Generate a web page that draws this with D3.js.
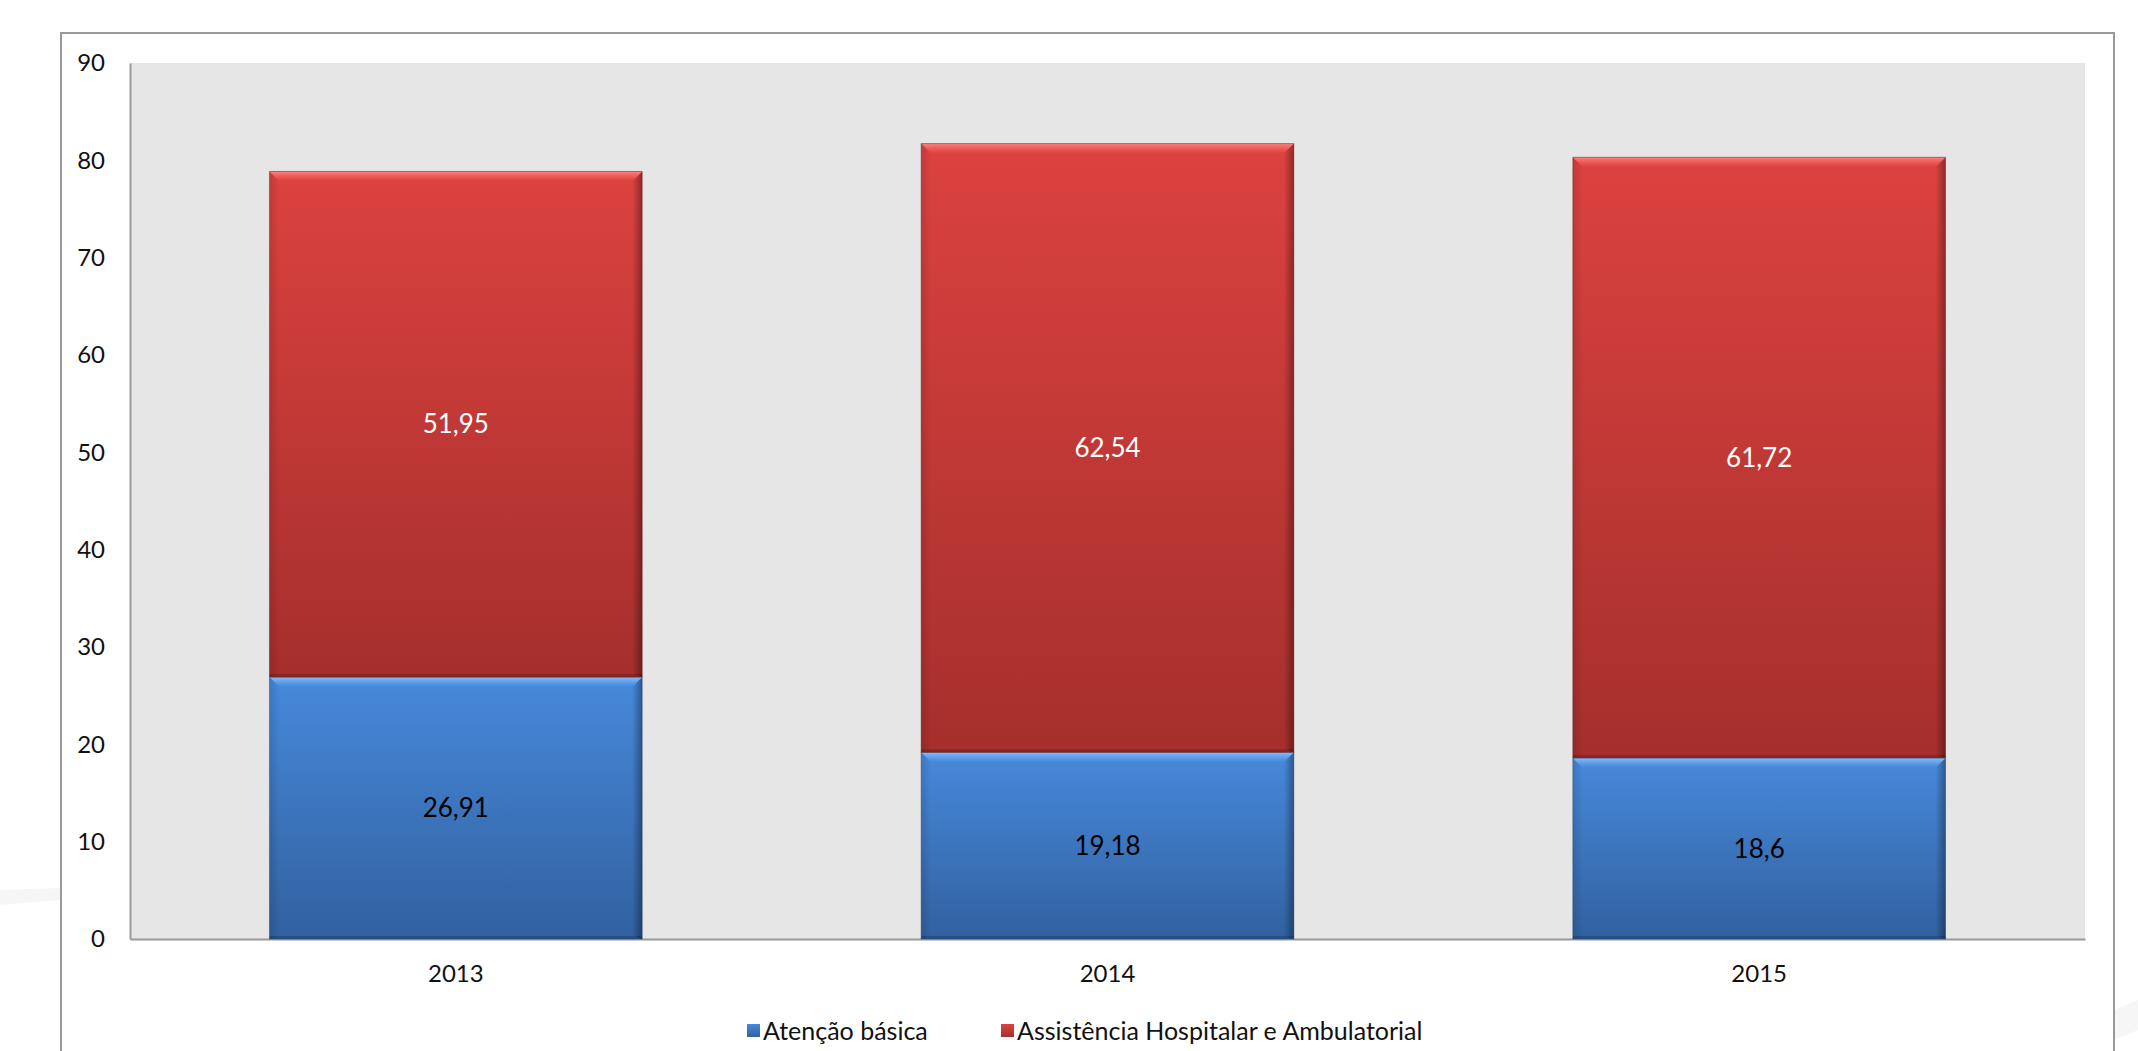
<!DOCTYPE html>
<html>
<head>
<meta charset="UTF-8">
<script src="https://cdn.jsdelivr.net/npm/d3@7"></script>
<style>
body{
    margin:0;
    background:#fff;
    font-family: Lato, "Open Sans", sans-serif;
}
</style>
</head>
<body>
<script>
// data
var years = ["2013", "2014", "2015"]
var basica = [26.91, 19.18, 18.6]
var hospitalar = [51.95, 62.54, 61.72]
var seriesNames = ["Atenção básica", "Assistência Hospitalar e Ambulatorial"]
var yTicks = [0, 10, 20, 30, 40, 50, 60, 70, 80, 90]

var width = 2138
var height = 1051

var svg = d3.select("body")
    .append("svg")
    .attr("width", width)
    .attr("height", height)

var defs = svg.append("defs")

function grad(id, stops, horiz){
    var g = defs.append("linearGradient")
        .attr("id", id)
        .attr("x1", 0).attr("y1", 0)
        .attr("x2", horiz ? 1 : 0).attr("y2", horiz ? 0 : 1)
    stops.forEach(function(s){
        g.append("stop").attr("offset", s[0]).attr("stop-color", s[1]).attr("stop-opacity", s[2] == null ? 1 : s[2])
    })
}
grad("gRed", [["0%", "#dc4240"], ["100%", "#a52f2c"]])
grad("gBlue", [["0%", "#4789db"], ["100%", "#31619f"]])
grad("hiRed", [["0%", "#ff8a86", 0.9], ["100%", "#ff6a66", 0]])
grad("hiBlue", [["0%", "#8cc6ff", 0.9], ["100%", "#6ab0f5", 0]])
grad("shR", [["0%", "#000", 0], ["100%", "#000", 0.35]], true)
grad("shL", [["0%", "#000", 0.12], ["100%", "#000", 0]], true)

// faint watermark shapes behind
svg.append("path")
    .attr("d", "M0,890 L60,888 L60,900 L0,905 Z")
    .attr("fill", "#f6f6f6")
svg.append("path")
    .attr("d", "M2114,1010 L2138,1000 L2138,1030 L2114,1040 Z")
    .attr("fill", "#f6f6f6")

// outer chart frame
svg.append("path")
    .attr("d", "M61," + height + " L61,33 L2114,33 L2114," + height)
    .attr("fill", "none")
    .attr("stroke", "#999")
    .attr("stroke-width", 2)

var plot = {left: 130, top: 63, right: 2085, bottom: 939}

var x = d3.scaleBand()
    .domain(years)
    .range([plot.left, plot.right])
    .paddingInner(0.428)
    .paddingOuter(0.214)

var y = d3.scaleLinear()
    .domain([0, 90])
    .range([plot.bottom, plot.top])

svg.append("rect")
    .attr("x", plot.left)
    .attr("y", plot.top)
    .attr("width", plot.right - plot.left)
    .attr("height", plot.bottom - plot.top)
    .attr("fill", "#e6e6e6")

// axes
var yAxis = svg.append("g")
    .attr("transform", "translate(" + plot.left + ",0)")
    .call(d3.axisLeft(y).tickValues(yTicks).tickSize(0).tickPadding(25))
yAxis.select(".domain").attr("stroke", "#999").attr("stroke-width", 2)
yAxis.selectAll("text")
    .attr("font-family", "Lato, sans-serif")
    .attr("font-size", 24)
    .attr("fill", "#111")

var xAxis = svg.append("g")
    .attr("transform", "translate(0," + plot.bottom + ")")
    .call(d3.axisBottom(x).tickSize(0).tickPadding(26))
xAxis.select(".domain").attr("stroke", "#999").attr("stroke-width", 2)
xAxis.selectAll("text")
    .attr("font-family", "Lato, sans-serif")
    .attr("font-size", 24)
    .attr("fill", "#111")

// bevelled bar segment
var bv = 10
function bar(x0, y0, w, h, fillId, hiId, edge){
    var g = svg.append("g")
    g.append("rect")
        .attr("x", x0).attr("y", y0)
        .attr("width", w).attr("height", h)
        .attr("fill", "url(#" + fillId + ")")
    // left shade
    g.append("path")
        .attr("d", "M" + x0 + "," + y0 + " L" + x0 + "," + (y0 + h) +
            " L" + (x0 + bv) + "," + (y0 + h - 3) + " L" + (x0 + bv) + "," + (y0 + bv) + " Z")
        .attr("fill", "url(#shL)")
    // right shade
    g.append("path")
        .attr("d", "M" + (x0 + w) + "," + y0 + " L" + (x0 + w) + "," + (y0 + h) +
            " L" + (x0 + w - bv) + "," + (y0 + h - 3) + " L" + (x0 + w - bv) + "," + (y0 + bv) + " Z")
        .attr("fill", "url(#shR)")
    // bottom shade
    g.append("rect")
        .attr("x", x0).attr("y", y0 + h - 3)
        .attr("width", w).attr("height", 3)
        .attr("fill", "#000")
        .attr("opacity", 0.18)
    // top highlight
    g.append("path")
        .attr("d", "M" + x0 + "," + y0 + " L" + (x0 + w) + "," + y0 +
            " L" + (x0 + w - bv) + "," + (y0 + bv) + " L" + (x0 + bv) + "," + (y0 + bv) + " Z")
        .attr("fill", "url(#" + hiId + ")")
    g.append("rect")
        .attr("x", x0).attr("y", y0)
        .attr("width", w).attr("height", h)
        .attr("fill", "none")
        .attr("stroke", edge)
        .attr("stroke-opacity", 0.4)
        .attr("stroke-width", 1)
}

for (let i = 0; i < years.length; i++){
    let bx = x(years[i])
    let bw = x.bandwidth()
    let yb = y(basica[i])
    let yh = y(basica[i] + hospitalar[i])
    bar(bx, yb, bw, y(0) - yb, "gBlue", "hiBlue", "#1f3f6e")
    bar(bx, yh, bw, yb - yh, "gRed", "hiRed", "#6e1a18")

    svg.append("text")
        .attr("x", bx + bw / 2)
        .attr("y", (yb + y(0)) / 2)
        .attr("dy", "0.35em")
        .attr("text-anchor", "middle")
        .attr("font-size", 26)
        .attr("fill", "#000")
        .text(String(basica[i]).replace(".", ","))
    svg.append("text")
        .attr("x", bx + bw / 2)
        .attr("y", (yh + yb) / 2)
        .attr("dy", "0.35em")
        .attr("text-anchor", "middle")
        .attr("font-size", 26)
        .attr("fill", "#fff")
        .text(String(hospitalar[i]).replace(".", ","))
}

// legend
var legendX = [747, 1001]
var legendFill = ["url(#gBlue)", "url(#gRed)"]
for (let i = 0; i < seriesNames.length; i++){
    svg.append("rect")
        .attr("x", legendX[i])
        .attr("y", 1024)
        .attr("width", 13)
        .attr("height", 13)
        .attr("fill", legendFill[i])
    svg.append("text")
        .attr("x", legendX[i] + 16)
        .attr("y", 1031)
        .attr("dy", "0.35em")
        .attr("font-size", 25)
        .attr("fill", "#111")
        .text(seriesNames[i])
}
</script>
</body>
</html>
